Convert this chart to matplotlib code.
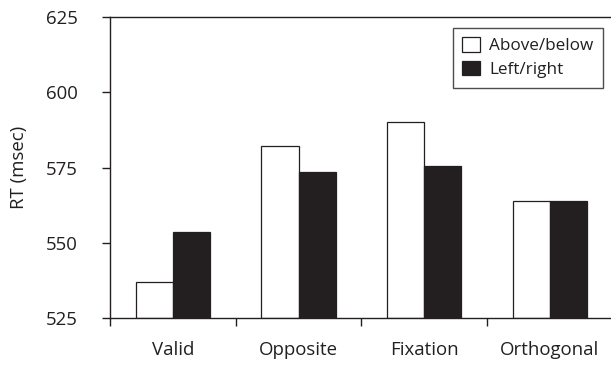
import matplotlib
matplotlib.use("Agg")
import matplotlib.pyplot as plt
import numpy as np

conditions = ["Valid", "Opposite", "Fixation", "Orthogonal"]
above_below = [537, 582.3, 590, 564]
left_right = [553.6, 573.5, 575.6, 564]
yticks = [525, 550, 575, 600, 625]

plt.rcParams["font.family"] = ["Open Sans", "DejaVu Sans"]

W, H = 611, 366
fig = plt.figure(figsize=(W / 100, H / 100), dpi=100)
ax = fig.add_axes([110 / W, 1 - 318.3 / H, 501 / W, 301.3 / H])

x = np.arange(len(conditions)) + 0.5
bw = 0.295
ax.bar(x - bw / 2, np.array(above_below) - 525, bw, bottom=525, color="white",
       edgecolor="#231f20", lw=0.9, label="Above/below")
ax.bar(x + bw / 2, np.array(left_right) - 525, bw, bottom=525, color="#231f20",
       edgecolor="#231f20", lw=0.9, label="Left/right")

ax.set_ylim(525, 625)
ax.set_xlim(0, 501 / 125.7)
ax.set_yticks(yticks)
ax.set_xticks(np.arange(len(conditions)))
ax.set_xticklabels([])
ax.set_xticks(x, minor=True)
ax.set_xticklabels(conditions, minor=True)
ax.tick_params(axis="x", which="major", direction="out", length=6, width=1, color="#231f20")
ax.tick_params(axis="x", which="minor", length=0, pad=16, labelsize=13.4, labelcolor="#231f20")
ax.tick_params(axis="y", direction="out", length=6, width=1, pad=17, labelsize=13.4,
               color="#231f20", labelcolor="#231f20")
for s in ("left", "top", "bottom"):
    ax.spines[s].set_color("#231f20")
    ax.spines[s].set_linewidth(1)
ax.spines["right"].set_visible(False)

ax.set_ylabel("RT (msec)", fontsize=13.4, color="#231f20", labelpad=13)

leg = ax.legend(loc="upper right", bbox_to_anchor=(603 / W, 1 - 28 / H),
                bbox_transform=fig.transFigure, fancybox=False, fontsize=12.3,
                handlelength=1.05, handleheight=0.9, handletextpad=0.55,
                borderpad=0.55, labelspacing=0.4, borderaxespad=0)
leg.get_frame().set_edgecolor("#231f20")
leg.get_frame().set_linewidth(1)
for t in leg.get_texts():
    t.set_color("#231f20")

fig.savefig("out.png", dpi=100)
